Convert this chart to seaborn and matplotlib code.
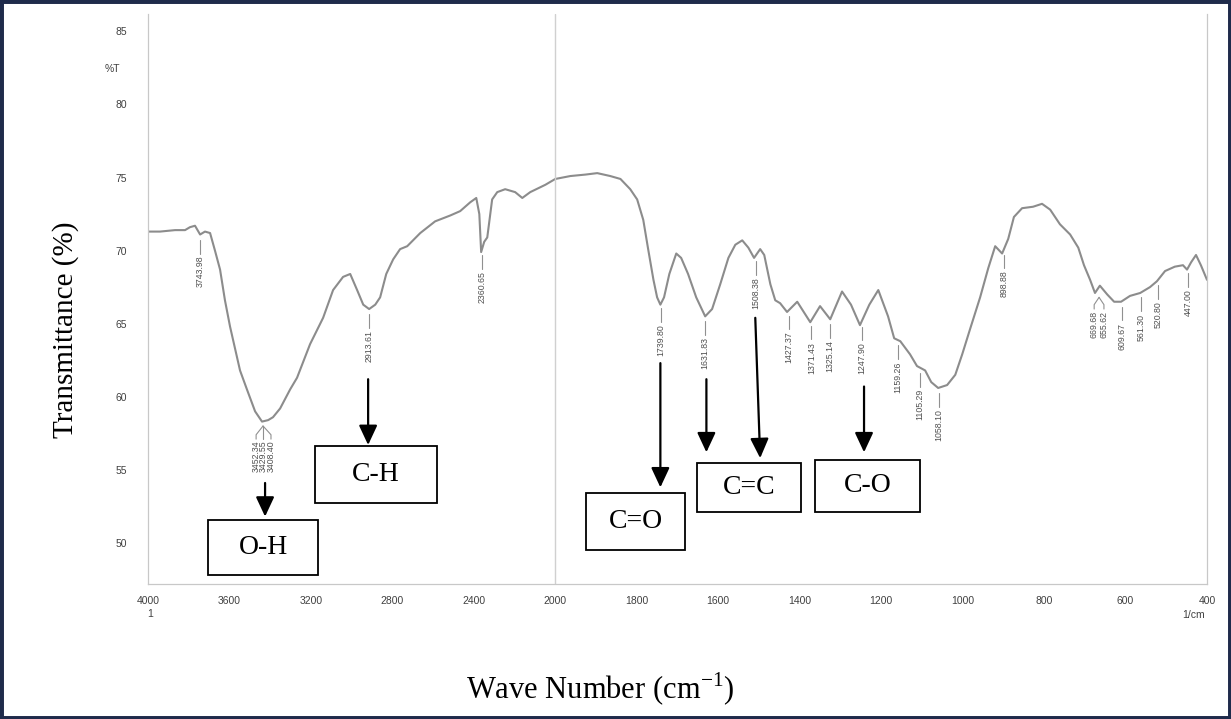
import matplotlib.pyplot as plt
import matplotlib.patches as mpatches
import numpy as np
import pandas as pd
import seaborn as sns

# spectrum (1/cm, %T)
wavenumber = [4000, 3941, 3867, 3843, 3818, 3794, 3769, 3744, 3720, 3695, 3671, 3646, 3622,
              3597, 3548, 3514, 3474, 3440, 3410, 3386, 3351, 3302, 3268, 3204, 3140, 3091,
              3042, 3007, 2973, 2943, 2914, 2884, 2860, 2830, 2796, 2762, 2727, 2663, 2590,
              2516, 2467, 2418, 2388, 2373, 2364, 2349, 2334, 2310, 2285, 2246, 2197, 2162,
              2123, 2049, 2000,
              1963, 1926, 1897, 1865, 1840, 1816, 1799, 1784, 1772, 1759, 1750, 1742, 1733,
              1720, 1703, 1691, 1674, 1654, 1632, 1615, 1595, 1575, 1558, 1541, 1526, 1512,
              1497, 1487, 1472, 1460, 1448, 1431, 1406, 1374, 1350, 1325, 1296, 1274, 1252,
              1229, 1207, 1183, 1168, 1153, 1129, 1112, 1092, 1077, 1060, 1038, 1018, 1001,
              982, 957, 937, 920, 903, 888, 874, 854, 827, 805, 785, 761, 736, 716, 702, 687,
              675, 663, 645, 628, 611, 589, 564, 540, 523, 503, 479, 459, 449, 439, 427, 415,
              400]
transmittance = [71.3, 71.3, 71.4, 71.4, 71.4, 71.6, 71.7, 71.1, 71.3, 71.2, 70.0, 68.7, 66.6,
                 64.8, 61.8, 60.5, 59.0, 58.3, 58.4, 58.6, 59.2, 60.5, 61.3, 63.6, 65.4, 67.3,
                 68.2, 68.4, 67.3, 66.3, 66.0, 66.3, 66.8, 68.4, 69.4, 70.1, 70.3, 71.2, 72.0,
                 72.4, 72.7, 73.3, 73.6, 72.5, 69.9, 70.6, 70.9, 73.5, 74.0, 74.2, 74.0, 73.6,
                 74.0, 74.5, 74.9,
                 75.1, 75.2, 75.3, 75.1, 74.9, 74.2, 73.5, 72.1, 70.1, 68.0, 66.8, 66.3, 66.8,
                 68.4, 69.8, 69.5, 68.4, 66.8, 65.5, 66.0, 67.7, 69.5, 70.4, 70.7, 70.2, 69.5,
                 70.1, 69.7, 67.7, 66.6, 66.4, 65.8, 66.5, 65.1, 66.2, 65.3, 67.2, 66.3, 64.9,
                 66.3, 67.3, 65.5, 64.0, 63.8, 62.9, 62.1, 61.8, 61.0, 60.6, 60.8, 61.5, 62.9,
                 64.6, 66.8, 68.8, 70.3, 69.8, 70.8, 72.3, 72.9, 73.0, 73.2, 72.8, 71.8, 71.1,
                 70.2, 69.0, 68.0, 67.1, 67.6, 67.0, 66.5, 66.5, 66.9, 67.1, 67.5, 67.9, 68.6,
                 68.9, 69.0, 68.7, 69.2, 69.7, 69.0, 68.0]

peak_labels = ["3743.98", "2913.61", "2360.65", "1739.80", "1631.83", "1508.38", "1427.37",
               "1371.43", "1325.14", "1247.90", "1159.26", "1105.29", "1058.10", "898.88",
               "609.67", "561.30", "520.80", "447.00"]
oh_labels = ["3452.34", "3429.55", "3408.40"]
pair_labels = ["669.68", "655.62"]

x_ticks = [4000, 3600, 3200, 2800, 2400, 2000, 1800, 1600, 1400, 1200, 1000, 800, 600, 400]
y_ticks = [50, 55, 60, 65, 70, 75, 80, 85]

bond_names = ["O-H", "C-H", "C=O", "C=C", "C-O"]
# box corners (1/cm left, 1/cm right, %T low, %T high)
bond_boxes = [(3705, 3165, 47.8, 51.6), (3179, 2580, 52.7, 56.6), (1924, 1681, 49.5, 53.4),
              (1652, 1396, 52.1, 55.5), (1362, 1104, 52.1, 55.7)]
arrow_tails = [(3425, 54.1), (2919, 61.2), (1742, 62.3), (1629, 61.2), (1509, 65.4), (1242, 60.7)]
arrow_heads = [(3425, 51.8), (2919, 56.7), (1742, 53.8), (1629, 56.2), (1497, 55.8), (1242, 56.2)]


def forward(x):
    x = np.asarray(x, dtype=float)
    return np.where(x >= 2000, 1000 + x / 2, x)


def inverse(u):
    u = np.asarray(u, dtype=float)
    return np.where(u >= 2000, (u - 1000) * 2, u)


sns.set_theme(style="white")
plt.rcParams['font.family'] = ['Liberation Sans', 'DejaVu Sans']
plt.rcParams['mathtext.fontset'] = 'custom'
plt.rcParams['mathtext.rm'] = 'Liberation Serif'

df = pd.DataFrame({"wn": wavenumber, "t": transmittance})

fig = plt.figure(figsize=(12.31, 7.19), dpi=100)
ax = fig.add_axes([0.1202, 0.188, 0.8603, 0.7928])

sns.lineplot(data=df, x="wn", y="t", sort=False, estimator=None, color="#8c8c8c",
             linewidth=1.5, ax=ax)

ax.set_xscale('function', functions=(forward, inverse))
ax.set_xlim(4000, 400)
ax.set_ylim(47.2, 86.2)

ax.set_xticks(x_ticks)
ax.set_xticklabels([str(v) for v in x_ticks])
minor_x = list(range(4000, 2000, -100)) + list(range(2000, 399, -50))
ax.set_xticks(minor_x, minor=True)
ax.set_yticks(y_ticks)
ax.set_yticks(list(range(48, 87)), minor=True)
ax.tick_params(which='both', direction='out', color='#b0b0b0', labelsize=7.5, labelcolor='#404040')
ax.tick_params(which='major', length=5, width=0.8)
ax.tick_params(which='minor', length=3, width=0.6)
ax.tick_params(axis='y', pad=10)
ax.tick_params(axis='x', pad=4)

for side in ['left', 'bottom', 'right']:
    ax.spines[side].set_color('#c8c8c8')
    ax.spines[side].set_linewidth(0.9)
ax.spines['top'].set_visible(False)
ax.axvline(2000, color='#d0d0d0', linewidth=1.0)

ax.text(-0.034, 82.4, '%T', transform=ax.get_yaxis_transform(), ha='center', va='center',
        fontsize=7.5, color='#404040')
ax.text(0.002, -0.053, '1', transform=ax.transAxes, ha='center', va='center',
        fontsize=7.5, color='#404040')
ax.text(0.987, -0.055, '1/cm', transform=ax.transAxes, ha='center', va='center',
        fontsize=7.5, color='#404040')

# peak markers like the instrument print-out
wn_up = np.array(wavenumber[::-1], dtype=float)
t_up = np.array(transmittance[::-1], dtype=float)
lab_kw = dict(rotation=90, ha='center', va='top', fontsize=6.3, color='#505050')
for lab in peak_labels:
    p = float(lab)
    t = np.interp(p, wn_up, t_up)
    ax.plot([p, p], [t - 0.35, t - 1.3], color='#909090', linewidth=0.8)
    ax.text(p, t - 1.45, lab, **lab_kw)

for lab, px in zip(oh_labels, [3469, 3435, 3396]):
    ax.plot([3435, px, px], [58.0, 57.4, 57.1], color='#909090', linewidth=0.8)
    ax.text(px, 57.0, lab, **lab_kw)

for lab, px in zip(pair_labels, [677, 653]):
    ax.plot([665, px, px], [66.8, 66.3, 66.0], color='#909090', linewidth=0.8)
    ax.text(px, 65.9, lab, **lab_kw)

# bond annotations
for name, (x0, x1, y0, y1) in zip(bond_names, bond_boxes):
    ax.add_patch(mpatches.Rectangle((x1, y0), x0 - x1, y1 - y0, fill=False,
                                    edgecolor='black', linewidth=1.3, zorder=5))
    ax.text((x0 + x1) / 2, (y0 + y1) / 2, name, ha='center', va='center',
            fontsize=20, family='Liberation Serif', color='black', zorder=6)

for tail, head in zip(arrow_tails, arrow_heads):
    ax.annotate('', xy=head, xytext=tail,
                arrowprops=dict(arrowstyle='-|>,head_length=0.6,head_width=0.28',
                                mutation_scale=20, color='black', lw=1.6,
                                shrinkA=0, shrinkB=0))

ax.set_xlabel(r'Wave Number (cm$^{\mathrm{-1}}$)', family='Liberation Serif', fontsize=22,
              color='black', va='center')
ax.xaxis.set_label_coords(0.427, -0.186)
ax.set_ylabel('Transmittance (%)', family='Liberation Serif', fontsize=21, color='black',
              va='center')
ax.yaxis.set_label_coords(-0.078, 0.446)

fig.patches.append(mpatches.Rectangle((0, 0), 1, 1, transform=fig.transFigure, fill=False,
                                      edgecolor='#1f2b4b', linewidth=5))

fig.savefig('out.png', dpi=100)
